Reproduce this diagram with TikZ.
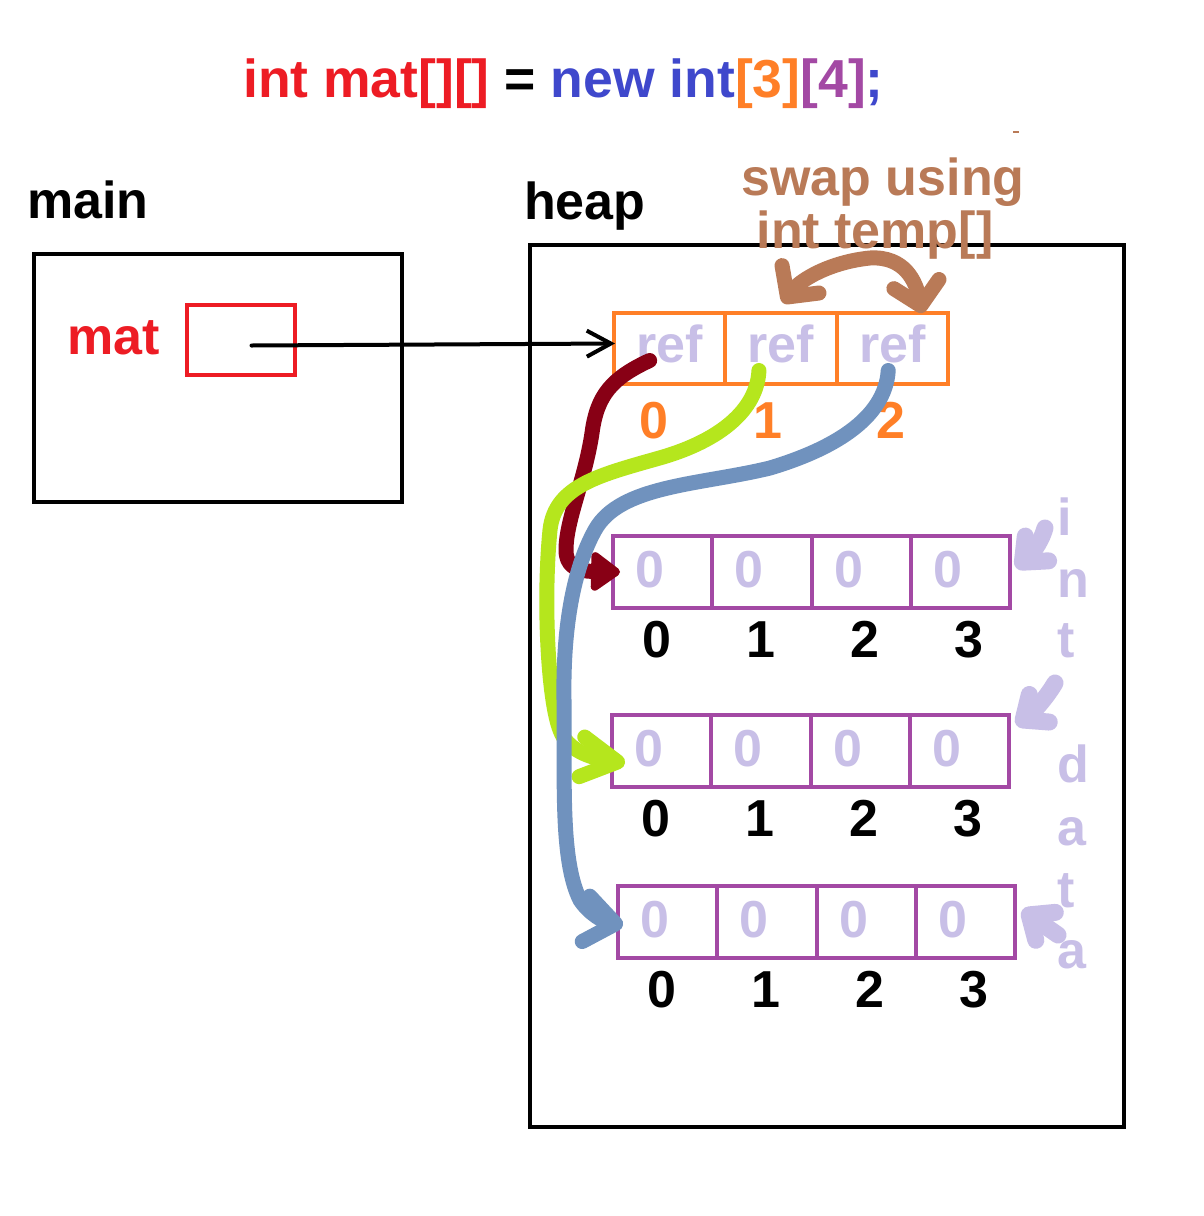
\documentclass[tikz,border=0pt]{standalone}
\usepackage{fontspec}
\setmainfont{Liberation Sans}
\usetikzlibrary{arrows.meta}

\definecolor{pred}{HTML}{ED1C24}
\definecolor{porange}{HTML}{FF7F27}
\definecolor{ppurple}{HTML}{A349A4}
\definecolor{plav}{HTML}{C8BFE7}
\definecolor{pblue}{HTML}{3F48CC}
\definecolor{psteel}{HTML}{7092BE}
\definecolor{plime}{HTML}{B5E61D}
\definecolor{pmaroon}{HTML}{880015}
\definecolor{pbrown}{HTML}{B97A57}

\tikzset{
  txt/.style={font=\bfseries\fontsize{52}{62}\selectfont, inner sep=0pt, anchor=base},
  refcell/.style={draw=porange, line width=4pt, minimum width=111.3pt, minimum height=71pt,
    inner sep=0pt, font=\bfseries\fontsize{52}{62}\selectfont, text=plav,
    text height=27pt, text depth=0pt},
  intcell/.style={draw=ppurple, line width=4pt, minimum width=99.3pt, minimum height=72pt, inner sep=0pt},
  scribble/.style={line width=15pt, line cap=round, line join=round},
}

\begin{document}
\begin{tikzpicture}[x=1pt,y=-1pt]
  \fill[white] (0,0) rectangle (1204,1216);
  \useasboundingbox (0,0) rectangle (1204,1216);

  % declaration
  \node[txt, anchor=base west, font=\bfseries\fontsize{53.5}{62}\selectfont] (decl) at (243,97)
    {\textcolor{pred}{int mat[][]} = \textcolor{pblue}{new int}\textcolor{porange}{[3]}\textcolor{ppurple}{[4]}\textcolor{pblue}{;}};

  % stack
  \node[txt, anchor=base west] (mainlbl) at (27,218) {main};
  \draw[line width=4pt] (34,254) rectangle (402,502);
  \node[txt, anchor=base west, text=pred] (matlbl) at (67,354) {mat};
  \node[draw=pred, line width=4pt, minimum width=108pt, minimum height=70pt, inner sep=0pt] (matbox) at (240.5,339.5) {};

  % heap
  \node[txt, anchor=base west] (heaplbl) at (524,219) {heap};
  \draw[line width=4pt] (530,245) rectangle (1124,1127);

  \foreach \i in {0,1,2}
    \node[refcell] (ref\i) at (669.65+111.3*\i,348.5) {ref};
  \node[txt, text=porange] (ri0) at (654,438) {0};
  \node[txt, text=porange] (ri1) at (768,438) {1};
  \node[txt, text=porange] (ri2) at (891,438) {2};

  \foreach \r/\x/\y in {1/613/536, 2/612/715, 3/618/886}
    \foreach \k in {0,...,3}
    {
      \node[intcell] (c\r\k) at (\x+49.65+99.3*\k,\y+36) {};
      \node[txt, text=plav] (v\r\k) at (\x+37+99.3*\k,\y+51) {0};
      \node[txt] (i\r\k) at (\x+44+104*\k,\y+121) {\k};
    }

  % mat -> refs
  \draw[line width=4pt, line cap=round, -{Straight Barb[length=24pt,width=26pt]}]
    ([shift={(11,6)}]matbox.center) -- ([shift={(3,-5)}]ref0.west);

  % swap note
  \node[txt, text=pbrown] (swap1) at (883,195) {swap using};
  \node[txt, text=pbrown] (swap2) at (875,248) {int temp[]};
  \draw[pbrown, line width=1.5pt] (1013,132) -- (1019,132);

  \draw[scribble, pbrown, {Straight Barb[length=22pt,width=46pt,round]}-{Straight Barb[length=22pt,width=46pt,round]}]
    ([shift={(2,-8)}]ref1.north) .. controls (800,280) and (830,262) .. (870,258)
    .. controls (905,256) and (916,282) .. ([shift={(30,2)}]ref2.north);

  % refs -> rows
  \draw[scribble, pmaroon, -{Triangle[length=32pt,width=44pt,round]}]
    ([shift={(-20,12)}]ref0.center) .. controls (612,378) and (597,395) .. (592,433)
    .. controls (585,480) and (566,520) .. (566,550)
    .. controls (566,565) and (575,571) .. ([shift={(9,0)}]c10.west);
  \draw[scribble, plime, -{Straight Barb[length=36pt,width=40pt,round]}]
    ([shift={(-22,22)}]ref1.center) .. controls (757,410) and (720,440) .. (663,457)
    .. controls (600,475) and (555,485) .. (550,530)
    .. controls (543,600) and (548,700) .. (560,730)
    .. controls (567,750) and (590,758) .. ([shift={(15,12)}]c20.west);
  \draw[scribble, psteel, -{Straight Barb[length=30pt,width=46pt,round]}]
    ([shift={(-4,22)}]ref2.center) .. controls (885,420) and (830,450) .. (770,468)
    .. controls (700,485) and (620,485) .. (595,530)
    .. controls (570,575) and (563,640) .. (564,700)
    .. controls (565,780) and (560,860) .. (580,900)
    .. controls (590,915) and (605,922) .. ([shift={(7,3)}]c30.west);

  % int data
  \foreach \ch/\yy in {i/535, n/597, t/657, d/782, a/845, t/907, a/968}
    \node[txt, text=plav, anchor=base west] (w\yy) at (1057,\yy) {\ch};
  \coordinate (p1) at (1045,528);
  \coordinate (p2) at (1055,683);
  \coordinate (p3) at (1058,935);
  \draw[scribble, line width=17pt, plav, -{Straight Barb[length=20pt,width=34pt,round]}]
    (p1) .. controls (1040,545) and (1030,555) .. ([shift={(4,-4)}]c13.east);
  \draw[scribble, line width=17pt, plav, -{Straight Barb[length=20pt,width=34pt,round]}]
    (p2) .. controls (1045,700) and (1030,715) .. ([shift={(5,-26)}]c23.east);
  \draw[scribble, line width=17pt, plav, -{Straight Barb[length=20pt,width=34pt,round]}]
    (p3) -- ([shift={(5,-12)}]c33.east);
\end{tikzpicture}
\end{document}
